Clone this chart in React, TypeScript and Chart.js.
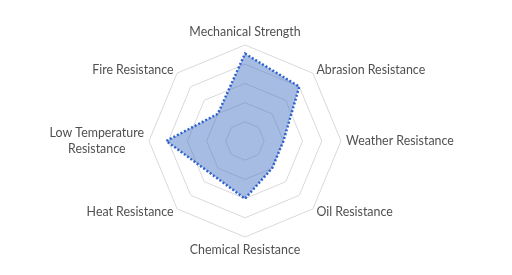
import React, { useEffect, useRef } from "react";
import { Chart, registerables } from "chart.js";

Chart.register(...registerables);

const categories: (string | string[])[] = [
  "Mechanical Strength",
  "Abrasion Resistance",
  "Weather Resistance",
  "Oil Resistance",
  "Chemical Resistance",
  "Heat Resistance",
  ["Low Temperature", "Resistance"],
  "Fire Resistance",
];
const seriesValues: number[] = [4.55, 4, 2, 2, 3, 2.45, 4.1, 2];
const scaleMin = 0;
const scaleMax = 5;
const scaleStep = 1;

const labelPlugin = {
  id: "excelPointLabels",
  afterDraw(chart: any) {
    const scale = chart.scales.r;
    const ctx = chart.ctx;
    const n = chart.data.labels.length;
    const fontSize = 12.4;
    const lineH = 16.7;
    ctx.save();
    ctx.font = `${fontSize}px Lato, "Liberation Sans", Arial, sans-serif`;
    ctx.fillStyle = "#505050";
    ctx.textBaseline = "middle";
    for (let i = 0; i < n; i++) {
      const raw = chart.data.labels[i];
      const lines: string[] = Array.isArray(raw) ? raw : [raw];
      const pos = scale.getPointPosition(i, scale.drawingArea + 5);
      const deg = Math.round((i * 360) / n) % 360;
      const h = lines.length * lineH;
      let cy = pos.y;
      let blockW = 0;
      for (const l of lines) blockW = Math.max(blockW, ctx.measureText(l).width);
      let cx = pos.x;
      if (deg === 0) {
        cy = pos.y - h / 2;
      } else if (deg === 180) {
        cy = pos.y + h / 2;
      } else if (deg < 180) {
        cx = pos.x + blockW / 2;
      } else {
        cx = pos.x - blockW / 2;
      }
      ctx.textAlign = "center";
      const top = cy - h / 2;
      lines.forEach((l, k) => {
        ctx.fillText(l, cx, top + lineH * (k + 0.5));
      });
    }
    ctx.restore();
  },
};

export default function App() {
  const ref = useRef<HTMLCanvasElement | null>(null);
  useEffect(() => {
    if (!ref.current) return;
    const chart = new Chart(ref.current, {
      type: "radar",
      data: {
        labels: categories as any,
        datasets: [
          {
            label: "Series 1",
            data: seriesValues,
            backgroundColor: "rgba(68,114,196,0.48)",
            borderColor: "#2E62CC",
            borderWidth: 2.5,
            borderDash: [2, 2],
            pointRadius: 0,
            pointHoverRadius: 0,
            fill: true,
            tension: 0,
          },
        ],
      },
      options: {
        animation: false,
        responsive: true,
        maintainAspectRatio: false,
        layout: { padding: { left: 0, right: 22, top: 45, bottom: 36.6 } },
        plugins: {
          legend: { display: false },
          tooltip: { enabled: false },
        },
        scales: {
          r: {
            min: scaleMin,
            max: scaleMax,
            ticks: { stepSize: scaleStep, display: false },
            grid: { color: "#d9d9d9", lineWidth: 1, circular: false },
            angleLines: { display: false },
            pointLabels: { display: false },
          },
        },
      },
      plugins: [labelPlugin],
    });
    return () => chart.destroy();
  }, []);
  return (
    <div
      style={{
        position: "fixed",
        left: 0,
        top: 0,
        width: 512,
        height: 275,
        background: "#ffffff",
      }}
    >
      <canvas ref={ref} />
    </div>
  );
}
